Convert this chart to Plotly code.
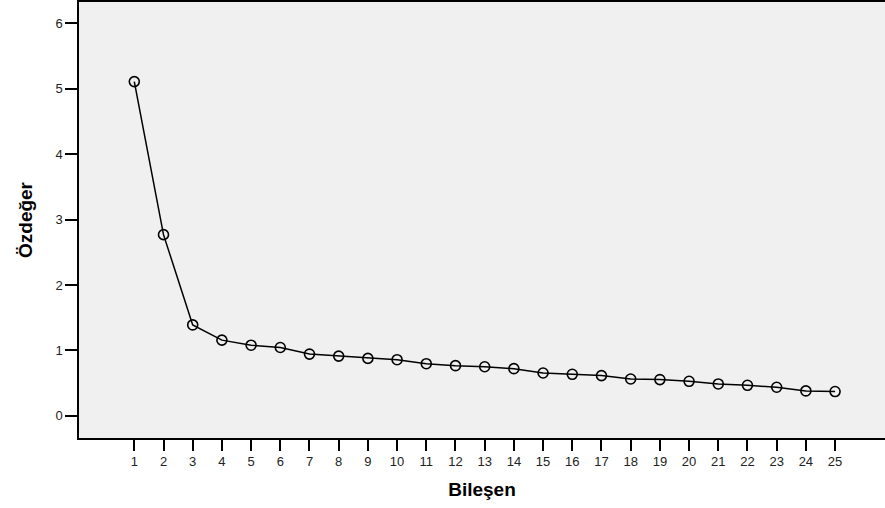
import plotly.graph_objects as go

components = list(range(1, 26))
eigenvalues = [5.11, 2.77, 1.39, 1.157, 1.08, 1.045, 0.944, 0.913, 0.878, 0.858,
               0.797, 0.767, 0.75, 0.721, 0.655, 0.635, 0.615, 0.563, 0.554, 0.528,
               0.487, 0.467, 0.437, 0.381, 0.371]
x_tick_labels = [str(c) for c in components]
y_ticks = [0, 1, 2, 3, 4, 5, 6]

fig = go.Figure()
fig.add_trace(go.Scatter(
    x=components, y=eigenvalues, mode="lines+markers",
    line=dict(color="black", width=1.5),
    marker=dict(symbol="circle-open", size=10, color="black", line=dict(width=1.6, color="black")),
    showlegend=False, hoverinfo="x+y",
))

fig.update_layout(
    width=885, height=508,
    margin=dict(l=79, r=0, t=0, b=70),
    paper_bgcolor="white", plot_bgcolor="#f0f0f0",
    font=dict(family="Liberation Sans, Arial, sans-serif", size=13, color="#222"),
    xaxis=dict(
        range=[-0.894, 26.71], tickmode="array", tickvals=components, ticktext=x_tick_labels,
        showgrid=False, zeroline=False, showline=True, linecolor="black", linewidth=1.5,
        mirror=True, ticks="outside", ticklen=11, tickwidth=1.5, tickcolor="black",
        title=dict(text="<b>Bileşen</b>", font=dict(size=19, color="black"), standoff=14),
    ),
    yaxis=dict(
        range=[-0.339, 6.327], tickmode="array", tickvals=y_ticks,
        showgrid=False, zeroline=False, showline=True, linecolor="black", linewidth=1.5,
        ticks="outside", ticklen=12, tickwidth=1.5, tickcolor="black",
        title=dict(text="<b>Özdeğer</b>", font=dict(size=19, color="black"), standoff=18),
    ),
)

fig.write_html("out.html", config={"displayModeBar": False},
               post_script="document.body.style.margin='0';document.body.style.overflow='hidden';")
